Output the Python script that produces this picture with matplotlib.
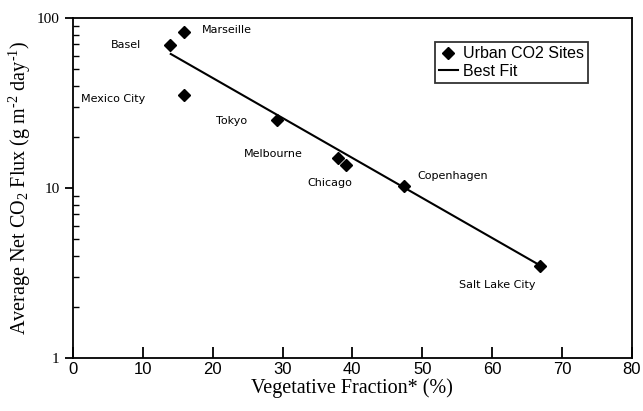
import matplotlib.pyplot as plt
from matplotlib.ticker import NullFormatter, FixedLocator

plt.rcParams["mathtext.fontset"] = "custom"
plt.rcParams["mathtext.rm"] = "Liberation Serif"
plt.rcParams["mathtext.it"] = "Liberation Serif:italic"

sites = ["Basel", "Marseille", "Mexico City", "Tokyo", "Melbourne",
         "Chicago", "Copenhagen", "Salt Lake City"]
veg_frac = [13.9, 15.9, 15.9, 29.2, 38.0, 39.1, 47.4, 66.9]
co2_flux = [69.8, 83.0, 35.3, 25.1, 15.1, 13.7, 10.3, 3.5]

fit_x = [14.0, 66.9]
fit_y = [61.5, 3.5]

# label anchor (x, y, horizontal alignment)
label_x = [9.7, 18.4, 1.2, 20.5, 24.5, 33.6, 49.3, 55.3]
label_y = [69.8, 84.7, 33.5, 24.7, 15.9, 10.7, 11.8, 2.67]
label_ha = ["right", "left", "left", "left", "left", "left", "left", "left"]

minor_y = [m * d for d in (1, 10) for m in range(2, 10)]

fig = plt.figure(figsize=(6.43, 4.11), dpi=100)
ax = fig.add_axes([0.1135, 0.129, 0.869, 0.827])

ax.plot(veg_frac, co2_flux, linestyle="none", marker="D", ms=6.5,
        color="black", label="Urban CO2 Sites")
ax.plot(fit_x, fit_y, color="black", lw=1.5, label="Best Fit")

for name, lx, ly, ha in zip(sites, label_x, label_y, label_ha):
    ax.text(lx, ly, name, ha=ha, va="center", fontsize=8,
            family="DejaVu Sans")

ax.set_yscale("log")
ax.set_xlim(0, 80)
ax.set_ylim(1, 100)
ax.xaxis.set_major_locator(FixedLocator(range(0, 81, 10)))
ax.yaxis.set_major_locator(FixedLocator([1, 10, 100]))
ax.yaxis.set_minor_locator(FixedLocator(minor_y))
ax.yaxis.set_minor_formatter(NullFormatter())
ax.set_yticklabels(["1", "10", "100"], family="Liberation Serif", fontsize=11)
ax.set_xticklabels([str(v) for v in range(0, 81, 10)],
                   family="Liberation Sans", fontsize=12)
ax.tick_params(axis="x", direction="in", length=8, width=1.3, pad=3)
ax.tick_params(axis="y", which="major", direction="out", length=6, width=1.3)
ax.tick_params(axis="y", which="minor", direction="in", length=4, width=1.0)
for s in ax.spines.values():
    s.set_linewidth(1.3)

ax.set_xlabel("Vegetative Fraction* (%)", family="Liberation Serif",
              fontsize=14.5, labelpad=1)
ax.set_ylabel("Average Net CO$_{\\mathrm{2}}$ Flux (g m$^{\\mathrm{\u20102}}$ day$^{\\mathrm{\u20101}}$)",
              family="Liberation Serif", fontsize=14.5, labelpad=3)

leg = ax.legend(loc="upper right", bbox_to_anchor=(0.921, 0.929),
                fontsize=11.5, fancybox=False, edgecolor="black",
                handlelength=1.2, handletextpad=0.3, borderpad=0.25,
                labelspacing=0.15, borderaxespad=0)
leg.get_frame().set_linewidth(1.3)
for t in leg.get_texts():
    t.set_family("Liberation Sans")

fig.savefig("out.png", dpi=100)
